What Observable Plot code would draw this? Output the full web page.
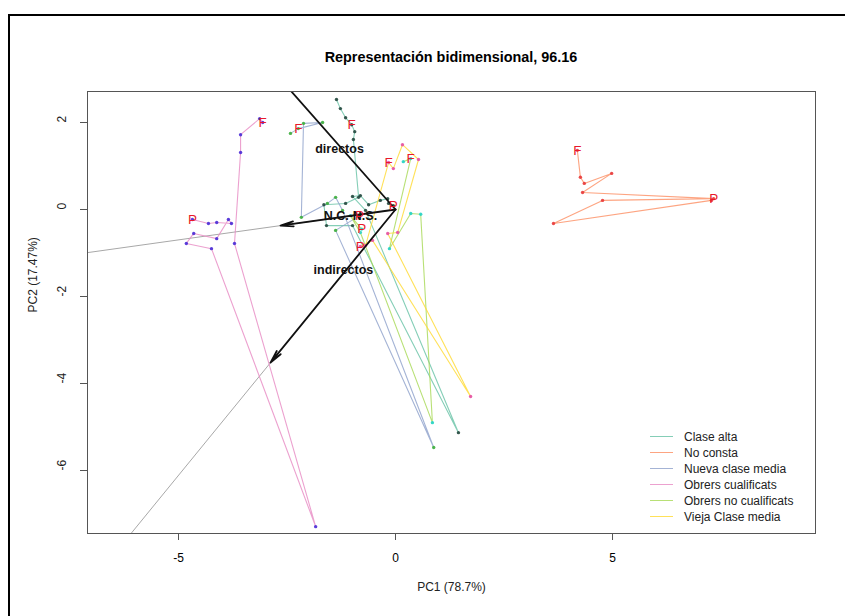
<!DOCTYPE html>
<html><head><meta charset="utf-8">
<script src="https://cdn.jsdelivr.net/npm/d3@7"></script>
<script src="https://cdn.jsdelivr.net/npm/@observablehq/plot@0.6"></script>
<style>
body{margin:0;background:#fff;font-family:"Liberation Sans",Arial,sans-serif;}
#wrap{position:relative;width:845px;height:616px;overflow:hidden;background:#fff;}
#border{position:absolute;left:8px;top:14px;width:870px;height:640px;border:2px solid #000;}
#title{position:absolute;left:0;width:902px;top:49px;text-align:center;font-weight:bold;font-size:14.4px;color:#000;}
#chart{position:absolute;left:0;top:0;}
#legend{position:absolute;left:650px;top:429px;font-size:12px;color:#222;}
#legend .row{height:16px;line-height:16px;white-space:nowrap;}
#legend .sw{display:inline-block;width:23px;height:0;border-top:1px solid;vertical-align:middle;margin-right:11px;position:relative;top:-1px;opacity:0.8;}
</style></head>
<body>
<div id="wrap">
<div id="border"></div>
<div id="chart"></div>
<div id="title">Representación bidimensional, 96.16</div>
<div id="legend"></div>
</div>
<script>
// ---- data (PC1, PC2, marker) ----
const groups = ["Clase alta","No consta","Nueva clase media","Obrers cualificats","Obrers no cualificats","Vieja Clase media"];

const claseAlta = [[-1.36,2.53,""],[-1.27,2.32,""],[-1.15,2.11,""],[-1.01,1.95,"F"],[-0.94,1.79,""],[-0.97,1.61,""],[-0.85,0.28,""],[-1.15,0.14,""],[-1.65,0.11,""],[-1.59,-0.37,""],[-0.99,-0.37,""],[1.45,-5.13,""],[-0.69,-0.02,""],[-0.99,0.30,""],[-0.81,0.32,""],[-0.62,0.11,""],[-0.35,0.21,""],[-0.18,0.25,""],[-0.16,0.14,""],[-0.05,0.09,"P"]];
const noConsta = [[4.19,1.36,"F"],[4.26,0.74,""],[4.35,0.60,""],[4.98,0.83,""],[4.31,0.39,""],[7.33,0.25,"P"],[4.77,0.21,""],[3.64,-0.32,""],[7.28,0.21,""]];
const nuevaClaseMedia = [[-2.42,1.75,""],[-2.24,1.86,"F"],[-1.68,2.00,""],[-2.12,1.98,""],[-2.17,-0.18,""],[-1.57,0.14,""],[-1.38,0.28,""],[-1.22,-0.02,""],[0.88,-5.47,""],[-1.38,-0.48,""],[-0.83,-0.14,"P"]];
const obrersCualificats = [[-3.06,2.00,"F"],[-3.13,2.09,""],[-3.57,1.72,""],[-3.57,1.31,""],[-3.71,-0.78,""],[-1.84,-7.29,""],[-4.24,-0.90,""],[-4.82,-0.78,""],[-4.65,-0.55,""],[-4.12,-0.67,""],[-3.85,-0.23,""],[-3.78,-0.32,""],[-4.12,-0.30,""],[-4.31,-0.32,""],[-4.68,-0.23,"P"]];
const obrersNoCualificats = [[0.18,1.10,""],[0.35,1.17,"F"],[-0.14,-0.90,""],[0.35,-0.09,""],[0.58,-0.11,""],[0.85,-4.90,""],[-0.81,-0.53,""],[-1.04,-0.14,""],[-0.78,-0.45,"P"]];
const viejaClaseMedia = [[-0.69,-0.83,""],[-0.16,1.08,"F"],[-0.05,0.94,""],[0.16,1.49,""],[0.53,1.15,""],[0.05,-0.53,""],[-0.18,-0.55,""],[1.73,-4.30,""],[-0.53,-0.71,""],[-0.81,-0.85,"P"]];

// loading arrows (variables)
const variables = ["directos","N.C.-N.S.","indirectos"];
const loadPC1 = [-2.75,-2.65,-2.88];
const loadPC2 = [3.11,-0.37,-3.52];
const varLabelPC1 = [-1.29,-1.04,-1.20];
const varLabelPC2 = [1.40,-0.14,-1.40];

const xTicks = [-5,0,5];
const yTicks = [-6,-4,-2,0,2];

// ---- styles ----
const lineColors = ["#66C2A5","#FC8D62","#8DA0CB","#E78AC3","#A6D854","#FFD92F"];
const dotColors = ["#24483e","#e8393a","#3cae3c","#4a2bd6","#22d3c5","#e64fa3"];

const series = [claseAlta,noConsta,nuevaClaseMedia,obrersCualificats,obrersNoCualificats,viejaClaseMedia];
const rows = [];
series.forEach((s,gi)=>s.forEach((p,i)=>rows.push({group:groups[gi],gi,i,pc1:p[0],pc2:p[1],mark:p[2]})));
const vars = variables.map((v,i)=>({name:v,x:loadPC1[i],y:loadPC2[i],lx:varLabelPC1[i],ly:varLabelPC2[i]}));

const marks = [];
marks.push(Plot.link(vars.filter(d=>d.name!=="directos"),{x1:0,y1:0,x2:d=>d.x*3,y2:d=>d.y*3,stroke:"#a8a8a8",strokeWidth:1,clip:true}));
series.forEach((s,gi)=>{
  const r = rows.filter(d=>d.gi===gi);
  marks.push(Plot.line(r,{x:"pc1",y:"pc2",stroke:lineColors[gi],strokeWidth:1.1,strokeOpacity:0.8}));
});
series.forEach((s,gi)=>{
  const r = rows.filter(d=>d.gi===gi);
  marks.push(Plot.dot(r,{x:"pc1",y:"pc2",r:1.7,fill:dotColors[gi],fillOpacity:0.9,stroke:"none"}));
});
marks.push(Plot.arrow(vars,{x1:0,y1:0,x2:"x",y2:"y",stroke:"#111",strokeWidth:1.8,headLength:11,headAngle:22,clip:true}));
marks.push(Plot.text(vars,{x:"lx",y:"ly",text:"name",fontWeight:"bold",fontSize:12.5,fill:"#111"}));
marks.push(Plot.text(rows.filter(d=>d.mark),{x:"pc1",y:"pc2",text:"mark",fill:"#e8192c",fontSize:13.5}));
marks.push(Plot.frame({stroke:"#555",strokeWidth:1}));
marks.push(Plot.axisX({ticks:xTicks,tickSize:7,tickPadding:13,tickFormat:d=>String(d),fontSize:12,stroke:"#555"}));
marks.push(Plot.axisY({ticks:yTicks,tickSize:7,tickFormat:()=>"",stroke:"#555"}));
marks.push(Plot.text(yTicks,{y:d=>d,text:d=>String(d),frameAnchor:"left",dx:-25,rotate:-90,fontSize:12,fill:"#222"}));
marks.push(Plot.text(["PC1 (78.7%)"],{frameAnchor:"bottom",dy:57,fontSize:12,fill:"#222"}));
marks.push(Plot.text(["PC2 (17.47%)"],{frameAnchor:"left",dx:-54,rotate:-90,fontSize:12,fill:"#222"}));

const chart = Plot.plot({
  width:845,height:616,
  marginLeft:87,marginRight:30,marginTop:91,marginBottom:83,
  x:{domain:[-7.097,9.677],axis:null},
  y:{domain:[-7.448,2.713],axis:null},
  style:{fontFamily:"'Liberation Sans',Arial,sans-serif",fontSize:"12px",background:"transparent",overflow:"visible"},
  marks
});
document.getElementById("chart").appendChild(chart);

const lg = d3.select("#legend");
groups.forEach((g,i)=>{
  const row = lg.append("div").attr("class","row");
  row.append("span").attr("class","sw").style("border-top-color",lineColors[i]);
  row.append("span").text(g);
});
</script>
</body></html>
